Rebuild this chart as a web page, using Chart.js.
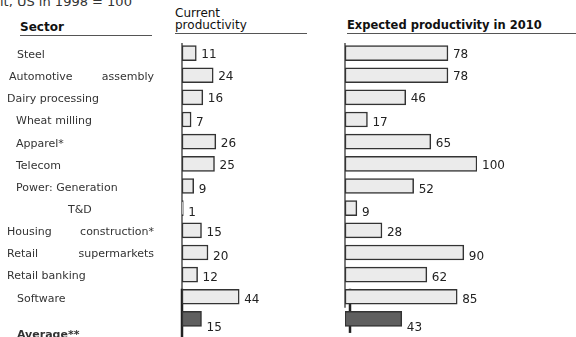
<!DOCTYPE html>
<html>
<head>
<meta charset="utf-8">
<script src="https://cdn.jsdelivr.net/npm/chart.js@4.4.1/dist/chart.umd.min.js"></script>
<style>
    html, body { margin: 0; padding: 0; background: #fff; }
    body { width: 576px; height: 337px; position: relative; overflow: hidden; font-family: "DejaVu Sans", sans-serif; color: #222; }
    .note { position: absolute; left: 0; top: -6px; font-size: 13px; color: #333; white-space: nowrap; }
    .head { position: absolute; font-size: 12px; line-height: 12px; color: #111; border-bottom: 1px solid #555; padding-bottom: 2px; white-space: nowrap; }
    #sector { left: 20px; top: 21px; width: 132px; font-weight: bold; }
    #cur { left: 175px; top: 7px; width: 132px; }
    #exp { left: 347px; top: 19px; width: 229px; font-weight: bold; font-size: 11.5px; }
    canvas { position: absolute; top: 0; }
    #leftChart { left: 0; }
    #rightChart { left: 330px; }
</style>
</head>
<body>
<div class="note">it, US in 1998 = 100</div>
<div class="head" id="sector">Sector</div>
<div class="head" id="cur">Current<br>productivity</div>
<div class="head" id="exp">Expected productivity in 2010</div>
<canvas id="leftChart" width="340" height="337"></canvas>
<canvas id="rightChart" width="246" height="337"></canvas>
<script>
// Index values, US in 1998 = 100
const sectors = ["Steel", "Automotive assembly", "Dairy processing", "Wheat milling", "Apparel*", "Telecom",
    "Power: Generation", "T&D", "Housing construction*", "Retail supermarkets", "Retail banking", "Software", "Average**"];
const current = [11, 24, 16, 7, 26, 25, 9, 1, 15, 20, 12, 44, 15];
const expected = [78, 78, 46, 17, 65, 100, 52, 9, 28, 90, 62, 85, 43];

// label indents (px) and which labels are spread across the column
const labelX = [17, 9, 7, 16, 16, 16, 16, 68, 7, 7, 7, 17, 17];
const spread = [false, true, false, false, false, false, false, false, true, true, false, false, false];
// value labels sit a little below the bar centre, more so further down
const valueDy = [2, 2, 1, 3, 2, 2, 4, 5, 3, 4, 3, 3, 9];

const lightFill = "#ebebeb";
const darkFill = "#5f5f5f";
const fills = sectors.map((s, i) => i === sectors.length - 1 ? darkFill : lightFill);

// value next to each bar
const valueLabels = {
    id: "valueLabels",
    afterDatasetsDraw(chart) {
        const ctx = chart.ctx;
        const meta = chart.getDatasetMeta(0);
        const data = chart.data.datasets[0].data;
        ctx.save();
        ctx.font = '12px "DejaVu Sans"';
        ctx.fillStyle = "#222";
        ctx.textBaseline = "middle";
        meta.data.forEach((bar, i) => {
            ctx.fillText(String(data[i]), bar.x + 5, bar.y + valueDy[i]);
        });
        ctx.restore();
    }
};

// vertical axis line + thick line for the last rows
const axisLine = {
    id: "axisLine",
    beforeDatasetsDraw(chart, args, opts) {
        const ctx = chart.ctx;
        const x0 = chart.scales.x.getPixelForValue(0);
        const y = chart.scales.y;
        const n = sectors.length;
        ctx.save();
        ctx.strokeStyle = "#333";
        ctx.lineWidth = 1.3;
        ctx.beginPath();
        ctx.moveTo(x0, chart.chartArea.top + 1);
        ctx.lineTo(x0, opts.full ? chart.height : y.getPixelForValue(n - 2) + 11);
        ctx.stroke();
        ctx.lineWidth = 2.5;
        ctx.strokeStyle = "#222";
        ctx.beginPath();
        ctx.moveTo(x0 + opts.shift, y.getPixelForValue(n - 2) - 8);
        ctx.lineTo(x0 + opts.shift, opts.full ? chart.height : y.getPixelForValue(n - 1) + 14);
        ctx.stroke();
        ctx.restore();
    }
};

// sector names on the left
const sectorLabels = {
    id: "sectorLabels",
    afterDraw(chart) {
        const ctx = chart.ctx;
        const y = chart.scales.y;
        ctx.save();
        ctx.fillStyle = "#333";
        ctx.textBaseline = "middle";
        sectors.forEach((name, i) => {
            const last = i === sectors.length - 1;
            const py = y.getPixelForValue(i) + (last ? 16 : 2);
            ctx.font = last ? 'bold 11px "DejaVu Sans"' : '11px "DejaVu Sans"';
            if (spread[i]) {
                const k = name.indexOf(" ");
                ctx.textAlign = "left";
                ctx.fillText(name.slice(0, k), labelX[i], py);
                ctx.textAlign = "right";
                ctx.fillText(name.slice(k + 1), 154, py);
            } else {
                ctx.textAlign = "left";
                ctx.fillText(name, labelX[i], py);
            }
        });
        ctx.restore();
    }
};

function makeChart(id, values, padding, axisOpts, extraPlugins) {
    return new Chart(document.getElementById(id), {
        type: "bar",
        data: {
            labels: sectors,
            datasets: [{
                data: values,
                backgroundColor: fills,
                borderColor: "#333",
                borderWidth: 1.5,
                borderSkipped: false,
                barThickness: 15
            }]
        },
        options: {
            indexAxis: "y",
            responsive: false,
            animation: false,
            devicePixelRatio: 1,
            layout: { padding: padding },
            scales: {
                x: { display: false, min: 0, max: 100 },
                y: { display: false }
            },
            plugins: {
                legend: { display: false },
                tooltip: { enabled: false },
                axisLine: axisOpts
            }
        },
        plugins: [axisLine, valueLabels].concat(extraPlugins)
    });
}

makeChart("leftChart", current, { left: 182, right: 28, top: 42, bottom: 7 }, { full: true, shift: 0 }, [sectorLabels]);
makeChart("rightChart", expected, { left: 15, right: 99, top: 42, bottom: 7 }, { full: false, shift: 5 }, []);
</script>
</body>
</html>
